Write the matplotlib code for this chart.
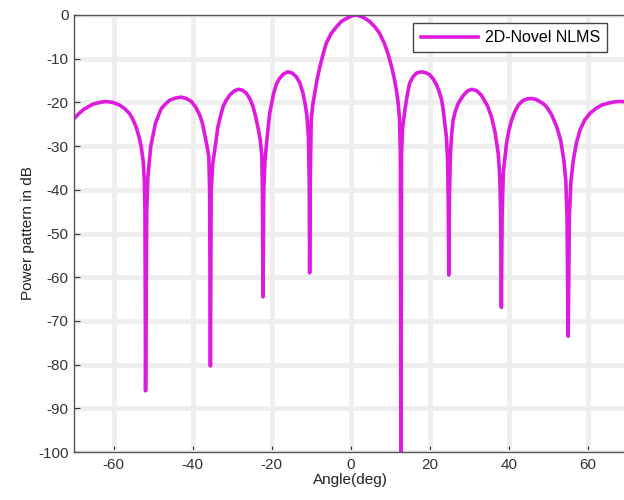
import numpy as np
import matplotlib.pyplot as plt

plt.rcParams['font.family'] = ['Liberation Sans', 'DejaVu Sans']
plt.rcParams['axes.unicode_minus'] = False

# beam pattern of the 2D-Novel NLMS array (angle in deg, power in dB)
angle = [-70.0, -68.8, -67.7, -66.4, -65.2, -63.5, -61.9, -60.2, -58.5, -57.2,
         -56.0, -55.1, -54.3, -53.6, -53.0, -52.5, -52.2, -52.05, -51.9, -51.6,
         -51.3, -50.6, -49.4, -48.6, -47.9, -46.8, -45.8, -44.3, -42.9, -41.6,
         -40.3, -39.2, -38.2, -37.5, -37.0, -36.4, -35.9, -35.7, -35.5, -35.3,
         -34.9, -34.4, -33.6, -32.9, -32.3, -31.5, -30.6, -29.5, -28.5, -27.4,
         -26.4, -25.5, -24.7, -24.1, -23.5, -22.9, -22.5, -22.35, -22.2, -22.0,
         -21.7, -21.3, -20.9, -20.5, -19.5, -18.8, -18.0, -17.0, -15.9, -14.8,
         -13.8, -12.9, -12.1, -11.5, -11.1, -10.7, -10.5, -10.4, -10.25, -10.0,
         -9.6, -9.1, -8.5, -7.8, -7.0, -6.2, -5.0, -3.6, -2.4, -1.1,
         0.2, 1.4, 3.1, 4.8, 6.1, 7.3, 8.4, 9.4, 10.3, 11.1,
         11.6, 12.0, 12.35, 12.55, 12.7, 12.85, 13.1, 13.7, 14.3, 14.9,
         15.7, 16.6, 17.9, 19.0, 20.0, 20.9, 21.7, 22.4, 23.0, 23.4,
         23.8, 24.2, 24.5, 24.65, 24.8, 24.95, 25.2, 25.5, 25.9, 26.5,
         27.2, 28.4, 29.5, 30.6, 31.8, 33.0, 34.6, 35.6, 36.5, 37.3,
         37.7, 37.9, 38.1, 38.3, 38.6, 39.4, 40.0, 40.7, 41.5, 42.4,
         43.5, 44.6, 45.7, 46.8, 47.8, 48.7, 49.5, 50.8, 52.1, 53.1,
         53.9, 54.4, 54.7, 55.0, 55.3, 55.7, 56.3, 57.1, 58.0, 59.2,
         60.5, 62.0, 63.5, 65.4, 67.3, 68.8, 70.0]
power_db = [-23.7, -22.6, -21.7, -21.0, -20.4, -20.0, -19.8, -20.0, -20.6, -21.4,
            -22.5, -23.9, -25.6, -27.7, -30.1, -33.5, -38.0, -45.0, -86.0, -45.0,
            -37.0, -30.1, -24.8, -22.9, -21.4, -20.3, -19.5, -19.0, -18.8, -19.1,
            -19.8, -21.1, -22.9, -24.8, -27.1, -29.8, -32.4, -40.0, -80.3, -40.0,
            -34.0, -30.9, -25.6, -23.0, -21.0, -19.5, -18.3, -17.4, -17.0, -17.2,
            -17.9, -19.2, -21.0, -23.1, -25.6, -28.5, -32.0, -40.0, -64.5, -40.0,
            -33.5, -29.4, -25.8, -22.5, -17.9, -15.8, -14.5, -13.5, -13.0, -13.3,
            -14.1, -15.5, -17.8, -20.5, -23.0, -28.0, -38.0, -59.0, -38.0, -24.0,
            -20.5, -17.9, -14.7, -11.8, -9.0, -6.5, -4.3, -2.7, -1.5, -0.8,
            -0.2, 0.0, -0.5, -1.5, -2.7, -4.2, -6.3, -8.8, -11.7, -14.9,
            -17.5, -20.2, -24.0, -32.0, -110.0, -32.0, -26.0, -21.7, -18.3, -15.6,
            -14.2, -13.3, -13.0, -13.2, -13.7, -14.7, -16.0, -17.6, -19.5, -21.8,
            -24.8, -28.0, -33.0, -42.0, -59.5, -42.0, -32.0, -27.5, -24.0, -21.9,
            -20.2, -18.5, -17.4, -17.0, -17.3, -18.3, -20.8, -23.3, -26.8, -31.7,
            -37.0, -45.0, -66.9, -45.0, -36.0, -29.4, -26.4, -24.0, -22.1, -20.6,
            -19.6, -19.2, -19.1, -19.3, -19.8, -20.3, -21.0, -22.8, -25.6, -28.7,
            -33.2, -38.0, -46.0, -73.5, -46.0, -38.0, -33.2, -29.2, -26.3, -24.0,
            -22.5, -21.4, -20.6, -20.1, -19.8, -19.8, -20.0]

fig = plt.figure(figsize=(6.24, 5.0), dpi=100)
ax = fig.add_axes([74/624, 1 - 452/500, 553.5/624, 437/500])

ax.plot(angle, power_db, color='#dd1add', linewidth=2.6, label='2D-Novel NLMS')

ax.set_xlim(-70, 70)
ax.set_ylim(-100, 0)
ax.set_xticks(np.arange(-60, 61, 20))
ax.set_yticks(np.arange(-100, 1, 10))
ax.grid(True, color='#eeeeee', linewidth=3.5)
ax.set_axisbelow(True)
ax.tick_params(direction='in', length=4, labelsize=11, colors='#333333',
               pad=4)
for s in ax.spines.values():
    s.set_color('#555555')
    s.set_linewidth(1.0)

ax.set_xlabel('Angle(deg)', fontsize=11, color='#222222', labelpad=1)
ax.set_ylabel('Power pattern in dB', fontsize=11, color='#222222', labelpad=2)

leg = ax.legend(loc='upper right', bbox_to_anchor=(607/624, 1 - 23/500),
                bbox_transform=fig.transFigure, borderaxespad=0,
                fancybox=False, framealpha=1, edgecolor='#444444',
                fontsize=11.5, handlelength=3.6, handletextpad=0.4,
                borderpad=0.45)
leg.get_frame().set_linewidth(1.0)

fig.savefig('out.png', dpi=100)
